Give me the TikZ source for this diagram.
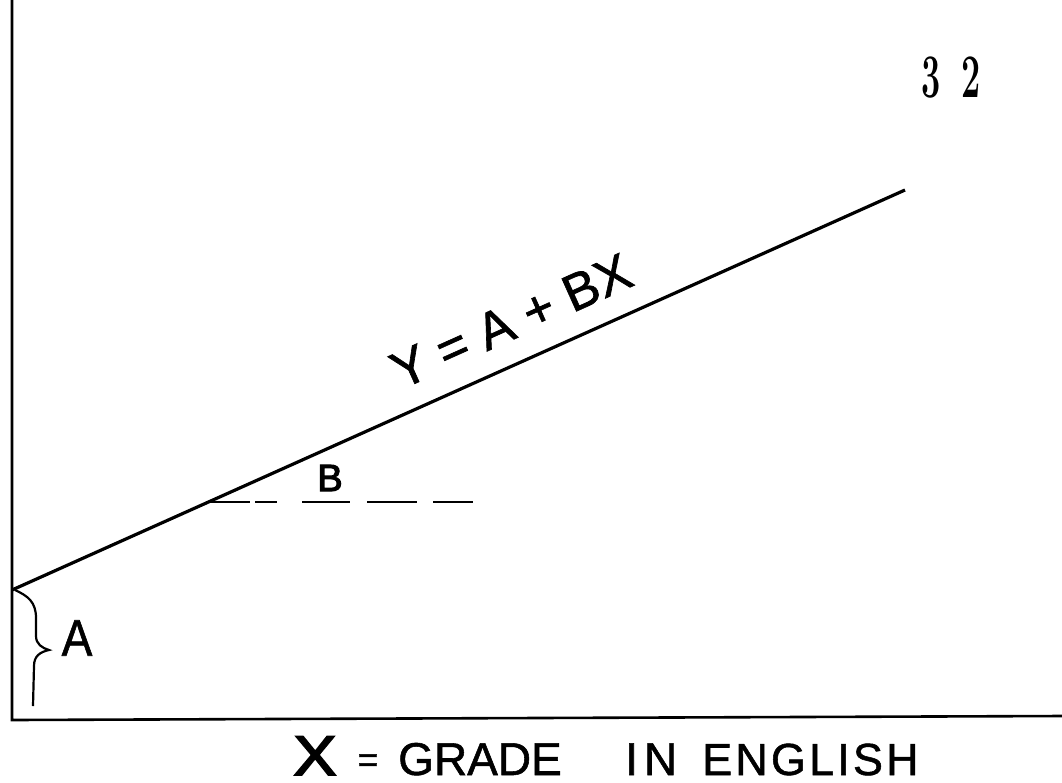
\documentclass[tikz,border=0pt]{standalone}
\usepackage{fontspec}
\setmainfont{Liberation Sans}[FakeBold=1.6]
\newfontfamily\handfont{Liberation Sans}[FakeBold=1.2]
\newfontfamily\handbold{Liberation Sans}[FakeBold=3]
\newfontfamily\numfont{Latin Modern Roman}
\tikzset{
  axis/.style={line width=2.6pt},
  mainline/.style={line width=3.2pt},
  hand/.style={inner sep=0pt},
}
\begin{document}
\begin{tikzpicture}[x=1pt,y=-1pt]
\useasboundingbox (0,0) rectangle (1062,782);
% axes
\coordinate (top) at (12,0);
\coordinate (origin) at (12,720);
\coordinate (xend) at (1062,716);
\draw[axis] (top) -- (origin) -- (xend);
% regression line
\coordinate (a) at (12,590);
\coordinate (e) at (905,190);
\draw[mainline] (a) -- (e) node[sloped, above=22pt, pos=0.578, inner sep=0pt, font=\handfont\fontsize{52}{52}\selectfont] (eq) {Y = A + BX};
% dashed horizontal
\coordinate (d0) at (207,502);
\coordinate (d1) at (473,502);
\draw[line width=2.4pt, dash pattern=on 43pt off 5pt on 22pt off 25pt on 48pt off 17pt on 50pt off 16pt on 40pt] (d0) -- (d1);
\node[hand, font=\handbold\fontsize{38}{38}\selectfont] (B) at (330,478) {B};
% brace
\draw[line width=2.2pt] (15,590) .. controls (28,596) and (36,602) .. (36,618)
  -- (36,636) .. controls (36,644) and (42,648) .. (49,650)
  .. controls (40,652) and (34,656) .. (34,666)
  -- (33,706);
\node[hand, font=\handfont\fontsize{46}{46}\selectfont, yscale=1.12] (Alab) at (77,638) {A};
% page number
\node[inner sep=0pt, font=\numfont\bfseries\fontsize{62}{62}\selectfont, xscale=0.55] (n3) at (931,78) {3};
\node[inner sep=0pt, font=\numfont\bfseries\fontsize{62}{62}\selectfont, xscale=0.55] (n2) at (971,77) {2};
% x label
\node[hand, anchor=base, font=\handbold\fontsize{56}{56}\selectfont, xscale=1.15] (X) at (315,775) {X};
\node[hand, anchor=base, font=\handfont\fontsize{36}{36}\selectfont] (eqs) at (368,772) {=};
\node[hand, anchor=base west, font=\handfont\fontsize{46}{46}\selectfont] (grade) at (398,775) {GRADE};
\node[hand, anchor=base west, font=\handfont\addfontfeature{LetterSpace=13}\fontsize{46}{46}\selectfont] (in) at (625,775) {IN};
\node[hand, anchor=base west, font=\handfont\addfontfeature{LetterSpace=7}\fontsize{45}{45}\selectfont] (eng) at (702,775) {ENGLISH};
\end{tikzpicture}
\end{document}
